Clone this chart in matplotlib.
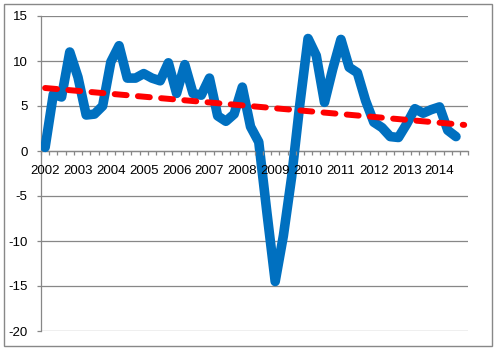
import matplotlib
matplotlib.use("Agg")
import matplotlib.pyplot as plt
from matplotlib.patches import Rectangle
import numpy as np

# Quarterly values, 2002 Q1 .. 2014 Q3
values = [0.4, 6.3, 6.0, 11.0, 8.2, 4.0, 4.1, 5.0,
          9.9, 11.7, 8.1, 8.1, 8.6, 8.1, 7.8, 9.8,
          6.4, 9.6, 6.4, 6.2, 8.1, 3.9, 3.3, 4.1,
          7.1, 2.7, 1.0, -6.9, -14.5, -9.4, -2.9, 5.2,
          12.5, 10.6, 5.4, 9.1, 12.4, 9.3, 8.7, 5.6,
          3.2, 2.6, 1.6, 1.5, 3.0, 4.7, 4.2, 4.6,
          4.9, 2.3, 1.6]
n_categories = 52
year_labels = ["2002", "2003", "2004", "2005", "2006", "2007", "2008",
               "2009", "2010", "2011", "2012", "2013", "2014"]
trend_x = [0, 51]
trend_y = [7.0, 2.9]
yticks = [-20, -15, -10, -5, 0, 5, 10, 15]

W, H = 499, 355
fig = plt.figure(figsize=(W / 100, H / 100), dpi=100)
plt.rcParams['font.family'] = ['Liberation Sans', 'DejaVu Sans']

ax = fig.add_axes([41 / W, (H - 331) / H, (468.3 - 41) / W, (331 - 16) / H])

grid_c = "#878787"
for yv in yticks:
    ax.axhline(yv, color=grid_c, lw=0.9, zorder=1)

x = np.arange(len(values))
ax.plot(x, values, color="#0070C0", lw=6.9, solid_joinstyle="round",
        solid_capstyle="round", zorder=2.2)
ax.plot(trend_x, trend_y, color="#FF0000", lw=4.3, ls=(0, (2.0, 1.9)),
        dash_capstyle="round", zorder=2.3)

ax.set_xlim(-0.5, n_categories - 0.5)
ax.set_ylim(-20, 15)

for s in ["top", "right"]:
    ax.spines[s].set_visible(False)
ax.spines["left"].set_color(grid_c)
ax.spines["left"].set_linewidth(0.9)
ax.spines["left"].set_zorder(1.5)
ax.spines["bottom"].set_position(("data", 0))
ax.spines["bottom"].set_color(grid_c)
ax.spines["bottom"].set_linewidth(0.9)
ax.spines["bottom"].set_zorder(1.5)

ax.set_yticks(yticks)
ax.set_yticklabels([str(v) for v in yticks])
ax.tick_params(axis="y", length=3, width=0.9, color=grid_c, pad=6.8,
               labelsize=9.5, labelcolor="black")

ax.set_xticks(np.arange(0, len(year_labels) * 4, 4))
ax.set_xticklabels(year_labels)
ax.set_xticks(np.arange(n_categories + 1) - 0.5, minor=True)
ax.tick_params(axis="x", which="major", length=0, pad=10, labelsize=9.5,
               labelcolor="black")
ax.tick_params(axis="x", which="minor", length=3, width=0.9, color=grid_c,
               direction="out")
ax.xaxis.set_zorder(3)

fig.patches.append(Rectangle((3.5 / W, (H - 346) / H), (492 - 3.5) / W,
                             (346 - 3.5) / H, transform=fig.transFigure,
                             fill=False, edgecolor="#888888", lw=1.0))

fig.savefig("out.png", dpi=100)
